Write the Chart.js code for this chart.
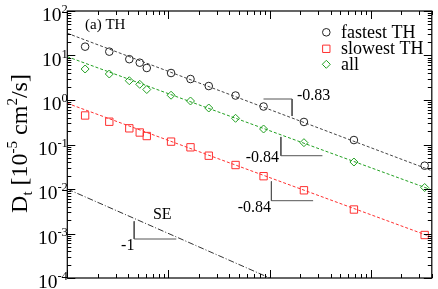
<!DOCTYPE html>
<html>
<head>
<meta charset="utf-8">
<script src="https://cdn.jsdelivr.net/npm/chart.js@4.4.1/dist/chart.umd.min.js"></script>
<style>
html,body{margin:0;padding:0;background:#fff;}
#wrap{width:438px;height:289px;}
</style>
</head>
<body>
<div id="wrap"><canvas id="c" width="438" height="289"></canvas></div>
<script>
// ---- data ----
const xValues = [1.5, 2.6, 4.1, 5.2, 6.1, 10.6, 16.5, 25, 46, 87, 218, 680, 3400];
const fastestTH = [15.8, 12.2, 8.26, 6.89, 5.24, 4.04, 2.96, 2.06, 1.26, 0.714, 0.321, 0.126, 0.0334];
const slowestTH = [0.449, 0.325, 0.231, 0.186, 0.155, 0.116, 0.0865, 0.056, 0.0346, 0.0194, 0.00935, 0.00346, 0.000925];
const allTH = [4.97, 3.84, 2.71, 2.25, 1.72, 1.28, 0.95, 0.661, 0.388, 0.223, 0.110, 0.0404, 0.0108];
const seriesNames = ['fastest TH', 'slowest TH', 'all'];

// power-law fit lines (end points)
const fitX = [1, 4000];
const fitFastest = [31.6, 0.0258];
const fitAll = [9.4, 0.0095];
const fitSlowest = [0.843, 0.00083];
// Stokes-Einstein reference line, slope -1
const seX = [1, 100];
const seY = [0.01, 0.0001];

// slope triangles
const triFastX = [86.9, 166.5, 166.5];
const triFastY = [1.053, 1.053, 0.436];
const triAllX = [129, 129, 332];
const triAllY = [0.148, 0.056, 0.056];
const triSlowX = [104, 104, 268.7];
const triSlowY = [0.0148, 0.00546, 0.00546];
const triSEX = [4.58, 4.58, 11.94];
const triSEY = [0.00188, 0.000752, 0.000752];

// annotation labels: [text, x, y(center)]
const slopeLabels = [['-0.83', 186, 1.23], ['-0.84', 57.9, 0.0515], ['-0.84', 48.4, 0.00384], ['SE', 7.01, 0.00264], ['-1', 3.4, 0.000532]];
const yTickExps = [2, 1, 0, -1, -2, -3, -4];
const xRange = [1, 4000];
const yRange = [1e-4, 1e2];

const SERIF = "'Liberation Serif', 'Times New Roman', serif";
const BLACK = '#222222', RED = '#ff3030', GREEN = '#22a022';

function pts(xs, ys) { return xs.map((x, i) => ({x: x, y: ys[i]})); }
function lineDs(xs, ys, color, dash) {
  return {type: 'line', data: pts(xs, ys), borderColor: color, borderWidth: 1, borderDash: dash,
          pointRadius: 0, fill: false, tension: 0, showLine: true};
}

const datasets = [
  lineDs(fitX, fitFastest, '#444444', [3, 2]),
  lineDs(fitX, fitAll, GREEN, [3, 2]),
  lineDs(fitX, fitSlowest, RED, [3, 2]),
  lineDs(seX, seY, '#333333', [6, 2, 1, 2]),
  lineDs(triFastX, triFastY, '#555555', []),
  lineDs(triAllX, triAllY, '#555555', []),
  lineDs(triSlowX, triSlowY, '#555555', []),
  lineDs(triSEX, triSEY, '#555555', []),
  {label: seriesNames[0], data: pts(xValues, fastestTH), pointStyle: 'circle', pointRadius: 3.8,
   borderColor: BLACK, backgroundColor: 'rgba(0,0,0,0)', pointBorderWidth: 1, showLine: false},
  {label: seriesNames[1], data: pts(xValues, slowestTH), pointStyle: 'rect', pointRadius: 5.2,
   borderColor: RED, backgroundColor: 'rgba(0,0,0,0)', pointBorderWidth: 1, showLine: false},
  {label: seriesNames[2], data: pts(xValues, allTH), pointStyle: 'rectRot', pointRadius: 4,
   borderColor: GREEN, backgroundColor: 'rgba(0,0,0,0)', pointBorderWidth: 1, showLine: false}
];

function drawRich(ctx, parts, x, y, align) {
  let w = 0;
  parts.forEach(p => { ctx.font = p[1] + 'px ' + SERIF; w += ctx.measureText(p[0]).width; });
  let cx = x;
  if (align === 'right') cx = x - w; else if (align === 'center') cx = x - w / 2;
  ctx.textAlign = 'left';
  ctx.textBaseline = 'alphabetic';
  parts.forEach(p => {
    ctx.font = p[1] + 'px ' + SERIF;
    ctx.fillText(p[0], cx, y + p[2]);
    cx += ctx.measureText(p[0]).width;
  });
}

const framePlugin = {
  id: 'frame',
  afterDraw(chart) {
    const ctx = chart.ctx, a = chart.chartArea;
    const xs = chart.scales.x, ys = chart.scales.y;
    ctx.save();
    ctx.strokeStyle = '#000';
    ctx.lineWidth = 1.2;
    ctx.strokeRect(a.left, a.top, a.right - a.left, a.bottom - a.top);
    ctx.lineWidth = 1;
    ctx.beginPath();
    // x ticks
    for (let e = 0; e <= 4; e++) {
      for (let m = 1; m <= 9; m++) {
        const v = m * Math.pow(10, e);
        if (v < xRange[0] || v > xRange[1]) continue;
        const px = Math.round(xs.getPixelForValue(v)) + 0.5;
        const len = m === 1 ? 8 : 4;
        ctx.moveTo(px, a.bottom); ctx.lineTo(px, a.bottom - len);
        ctx.moveTo(px, a.top); ctx.lineTo(px, a.top + len);
      }
    }
    // y ticks
    for (let e = -4; e <= 2; e++) {
      for (let m = 1; m <= 9; m++) {
        const v = m * Math.pow(10, e);
        if (v < yRange[0] * 0.999 || v > yRange[1] * 1.001) continue;
        const py = Math.round(ys.getPixelForValue(v)) + 0.5;
        const len = m === 1 ? 8 : 4;
        ctx.moveTo(a.left, py); ctx.lineTo(a.left + len, py);
        ctx.moveTo(a.right, py); ctx.lineTo(a.right - len, py);
      }
    }
    ctx.stroke();

    // y tick labels
    ctx.fillStyle = '#000';
    yTickExps.forEach(e => {
      const py = ys.getPixelForValue(Math.pow(10, e));
      drawRich(ctx, [['10', 19.5, 10], [String(e), 12.5, 2]], a.left + 0.5, py, 'right');
    });

    // y title
    ctx.save();
    ctx.translate(27, (a.top + a.bottom) / 2 - 1);
    ctx.rotate(-Math.PI / 2);
    drawRich(ctx, [['D', 24, 0], ['t', 15, 5], [' [10', 24, 0], ['-5', 15, -10], [' cm', 24, 0], ['2', 15, -10], ['/s]', 24, 0]], 0, 0, 'center');
    ctx.restore();

    // panel label
    ctx.font = '15px ' + SERIF;
    ctx.textAlign = 'left';
    ctx.textBaseline = 'middle';
    ctx.fillText('(a) TH', 85, 25);

    // slope labels
    ctx.font = '16px ' + SERIF;
    slopeLabels.forEach(l => {
      ctx.fillText(l[0], xs.getPixelForValue(l[1]), ys.getPixelForValue(l[2]));
    });

    // legend
    const legY = [32.3, 48.8, 64.3];
    const styles = [['circle', 3.8, BLACK], ['rect', 5.2, RED], ['rectRot', 4, GREEN]];
    styles.forEach((s, i) => {
      ctx.strokeStyle = s[2];
      ctx.fillStyle = 'rgba(0,0,0,0)';
      ctx.lineWidth = 1;
      Chart.helpers.drawPoint(ctx, {pointStyle: s[0], radius: s[1], rotation: 0, borderWidth: 1}, 326.3, legY[i]);
      ctx.fillStyle = '#000';
      ctx.font = '18px ' + SERIF;
      ctx.textBaseline = 'middle';
      ctx.fillText(seriesNames[i], 341, legY[i] + 0.5);
    });
    ctx.restore();
  }
};

new Chart(document.getElementById('c'), {
  type: 'scatter',
  data: {datasets: datasets},
  options: {
    responsive: false,
    animation: false,
    devicePixelRatio: 1,
    layout: {padding: {left: 67.3, top: 11, right: 1.5, bottom: 11}},
    plugins: {legend: {display: false}, tooltip: {enabled: false}},
    scales: {
      x: {type: 'logarithmic', min: xRange[0], max: xRange[1], display: false},
      y: {type: 'logarithmic', min: yRange[0], max: yRange[1], display: false}
    }
  },
  plugins: [framePlugin]
});
</script>
</body>
</html>
